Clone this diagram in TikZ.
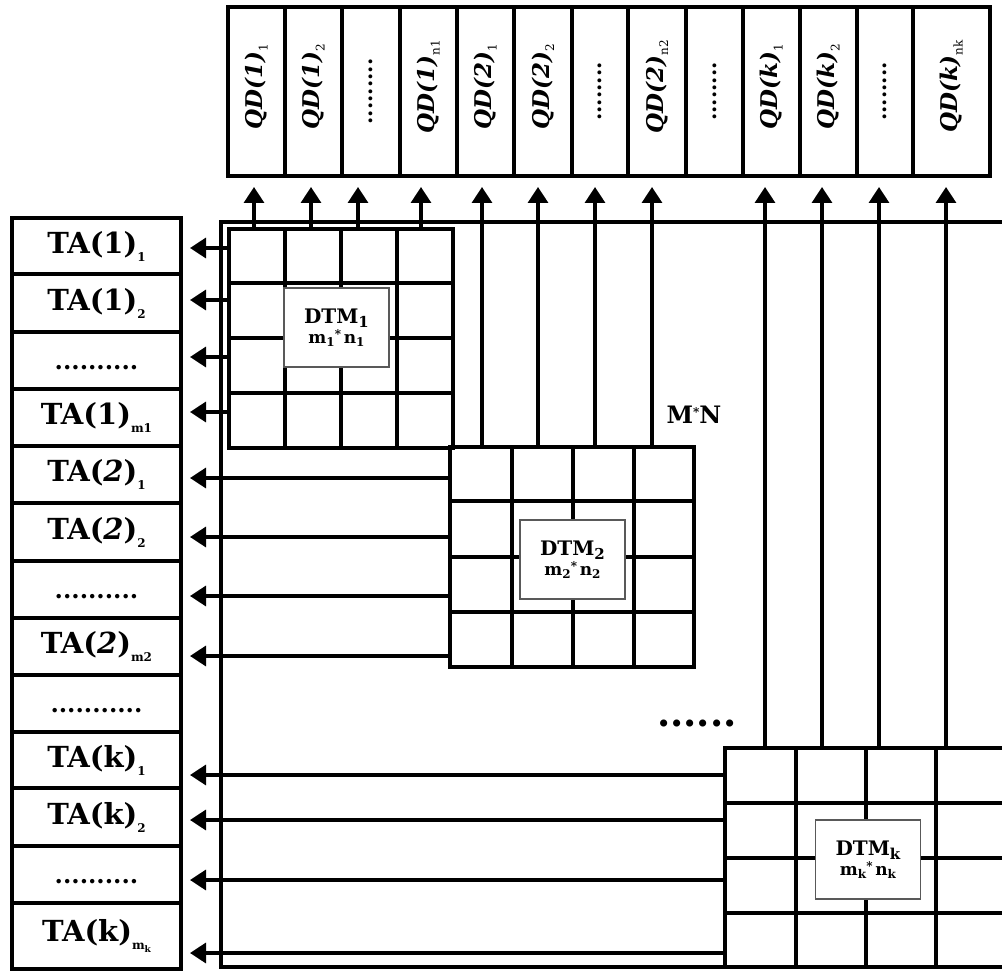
\documentclass[tikz,border=0pt]{standalone}
\usepackage{fontspec}
\setmainfont{DejaVu Serif}
\usetikzlibrary{arrows.meta}
\newcommand\rbx[3]{\raisebox{#1}{\fontsize{#2}{#2}\selectfont #3}}
\begin{document}
\begin{tikzpicture}[x=1pt,y=-1pt,line width=3.3pt,
  every node/.style={inner sep=0pt,outer sep=0pt},
  qdbox/.style={draw,line width=3.3pt,rotate=90,minimum width=169pt,font=\fontsize{23}{23}\selectfont\bfseries\itshape},
  tabox/.style={draw,line width=3.3pt,minimum width=169pt,font=\fontsize{29}{29}\selectfont\bfseries},
  dtmbox/.style={draw=black!65,line width=1.5pt,fill=white,minimum width=105pt,minimum height=79pt,align=center,font=\bfseries},
  arr/.style={-{Triangle[length=16pt,width=20pt]}},
  gline/.style={line width=3.3pt}]
\useasboundingbox (0,0) rectangle (1002,971);
\clip (0,0) rectangle (1002,971);
% big M*N rectangle
\draw[gline] (1012,222) -- (221,222) -- (221,967) -- (1012,967);
% grids
\draw[gline] (229,229) rectangle (453,448);
\foreach \x in {285,341,397} \draw[gline] (\x,229) -- (\x,448);
\foreach \y in {283,338,393} \draw[gline] (229,\y) -- (453,\y);
\draw[gline] (450,447) rectangle (694,667);
\foreach \x in {512,573,634} \draw[gline] (\x,447) -- (\x,667);
\foreach \y in {501,557,612} \draw[gline] (450,\y) -- (694,\y);
\draw[gline] (1012,748) -- (725,748) -- (725,967);
\foreach \x in {796,866,936} \draw[gline] (\x,748) -- (\x,967);
\foreach \y in {803,858,913} \draw[gline] (725,\y) -- (1012,\y);
% arrow end coordinates
\coordinate (qtip) at (0,187);
\coordinate (ttip) at (190,0);
% up arrows
\foreach \x [count=\i] in {254,311,358,421} {\coordinate (ua\i) at (\x,229); \draw[arr] (ua\i) -- (ua\i |- qtip);}
\foreach \x [count=\i] in {482,538,595,652} {\coordinate (ub\i) at (\x,447); \draw[arr] (ub\i) -- (ub\i |- qtip);}
\foreach \x [count=\i] in {765,822,879,946} {\coordinate (uc\i) at (\x,748); \draw[arr] (uc\i) -- (uc\i |- qtip);}
% left arrows
\foreach \y [count=\i] in {248,300,357,412} {\coordinate (la\i) at (229,\y); \draw[arr] (la\i) -- (la\i -| ttip);}
\foreach \y [count=\i] in {478,537,596,656} {\coordinate (lb\i) at (450,\y); \draw[arr] (lb\i) -- (lb\i -| ttip);}
\foreach \y [count=\i] in {775,820,880,953} {\coordinate (lc\i) at (725,\y); \draw[arr] (lc\i) -- (lc\i -| ttip);}
% DTM label boxes
\node[dtmbox] (dtm1) at (336.5,327.5) {{\fontsize{20}{22}\selectfont DTM\rbx{-4pt}{15}{1}}\\[1pt]{\fontsize{17}{18}\selectfont m\rbx{-3pt}{12}{1}\rbx{5pt}{12}{*}\,n\rbx{-3pt}{12}{1}}};
\node[dtmbox] (dtm2) at (572.5,559.5) {{\fontsize{20}{22}\selectfont DTM\rbx{-4pt}{15}{2}}\\[1pt]{\fontsize{17}{18}\selectfont m\rbx{-3pt}{12}{2}\rbx{5pt}{12}{*}\,n\rbx{-3pt}{12}{2}}};
\node[dtmbox] (dtmk) at (868,859.5) {{\fontsize{20}{22}\selectfont DTM\rbx{-4pt}{15}{k}}\\[1pt]{\fontsize{17}{18}\selectfont m\rbx{-3pt}{12}{k}\rbx{5pt}{12}{*}\,n\rbx{-3pt}{12}{k}}};
% labels
\node[font=\fontsize{24}{24}\selectfont\bfseries] (mn) at (694,415) {M\rbx{7pt}{12}{*}N};
\node[font=\fontsize{38}{38}\selectfont\bfseries] (dots) at (697,723) {......};
% QD boxes
\node[qdbox,minimum height=57pt] (qd1) at (256.5,91.5) {\hspace*{10pt}QD(1)\rbx{-5pt}{12}{\mdseries\upshape 1}};
\node[qdbox,minimum height=57pt] (qd2) at (313.5,91.5) {\hspace*{10pt}QD(1)\rbx{-5pt}{12}{\mdseries\upshape 2}};
\node[qdbox,minimum height=58pt,font=\fontsize{21}{21}\selectfont\bfseries] (qd3) at (371,91.5) {.........};
\node[qdbox,minimum height=57pt] (qd4) at (428.5,91.5) {\hspace*{10pt}QD(1)\rbx{-5pt}{12}{\mdseries\upshape n1}};
\node[qdbox,minimum height=57pt] (qd5) at (485.5,91.5) {\hspace*{10pt}QD(2)\rbx{-5pt}{12}{\mdseries\upshape 1}};
\node[qdbox,minimum height=58pt] (qd6) at (543,91.5) {\hspace*{10pt}QD(2)\rbx{-5pt}{12}{\mdseries\upshape 2}};
\node[qdbox,minimum height=56pt,font=\fontsize{21}{21}\selectfont\bfseries] (qd7) at (600,91.5) {........};
\node[qdbox,minimum height=58pt] (qd8) at (657,91.5) {\hspace*{10pt}QD(2)\rbx{-5pt}{12}{\mdseries\upshape n2}};
\node[qdbox,minimum height=57pt,font=\fontsize{21}{21}\selectfont\bfseries] (qd9) at (714.5,91.5) {........};
\node[qdbox,minimum height=57pt] (qd10) at (771.5,91.5) {\hspace*{10pt}QD(k)\rbx{-5pt}{12}{\mdseries\upshape 1}};
\node[qdbox,minimum height=57pt] (qd11) at (828.5,91.5) {\hspace*{10pt}QD(k)\rbx{-5pt}{12}{\mdseries\upshape 2}};
\node[qdbox,minimum height=56pt,font=\fontsize{21}{21}\selectfont\bfseries] (qd12) at (885,91.5) {........};
\node[qdbox,minimum height=77pt] (qd13) at (951.5,91.5) {\hspace*{10pt}QD(k)\rbx{-5pt}{12}{\mdseries\upshape nk}};
% TA boxes
\node[tabox,minimum height=56pt] (ta1) at (96.5,246) {TA(1)\rbx{-8pt}{12}{1}};
\node[tabox,minimum height=58pt] (ta2) at (96.5,303) {TA(1)\rbx{-8pt}{12}{2}};
\node[tabox,minimum height=57pt] (ta3) at (96.5,360.5) {\vphantom{TA(1)}\fontsize{24}{24}\selectfont ..........};
\node[tabox,minimum height=57pt] (ta4) at (96.5,417.5) {TA(1)\rbx{-8pt}{12}{m1}};
\node[tabox,minimum height=57pt] (ta5) at (96.5,474.5) {TA(\textit{2})\rbx{-8pt}{12}{1}};
\node[tabox,minimum height=58pt] (ta6) at (96.5,532) {TA(\textit{2})\rbx{-8pt}{12}{2}};
\node[tabox,minimum height=57pt] (ta7) at (96.5,589.5) {\vphantom{TA(1)}\fontsize{24}{24}\selectfont ..........};
\node[tabox,minimum height=57pt] (ta8) at (96.5,646.5) {TA(\textit{2})\rbx{-8pt}{12}{m2}};
\node[tabox,minimum height=57pt] (ta9) at (96.5,703.5) {\vphantom{TA(1)}\fontsize{24}{24}\selectfont ...........};
\node[tabox,minimum height=56pt] (ta10) at (96.5,760) {TA(k)\rbx{-8pt}{12}{1}};
\node[tabox,minimum height=58pt] (ta11) at (96.5,817) {TA(k)\rbx{-8pt}{12}{2}};
\node[tabox,minimum height=57pt] (ta12) at (96.5,874.5) {\vphantom{TA(1)}\fontsize{24}{24}\selectfont ..........};
\node[tabox,minimum height=66pt] (ta13) at (96.5,936) {TA(k)\rbx{-8pt}{12}{m\rbx{-3pt}{9}{k}}};
\end{tikzpicture}
\end{document}
